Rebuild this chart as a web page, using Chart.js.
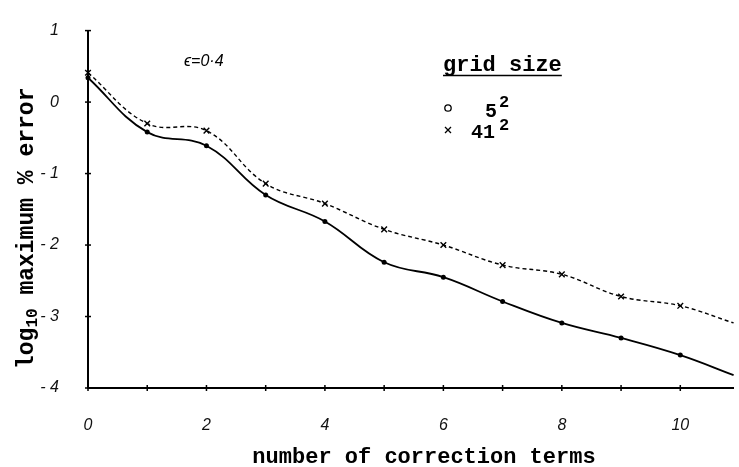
<!DOCTYPE html>
<html>
<head>
<meta charset="utf-8">
<script src="https://cdn.jsdelivr.net/npm/chart.js@4.4.0/dist/chart.umd.min.js"></script>
<style>
  html, body { margin: 0; padding: 0; background: #fff; }
  #wrap { width: 739px; height: 467px; position: relative; }
</style>
</head>
<body>
<div id="wrap"><canvas id="errChart"></canvas></div>
<script>
// number of correction terms (last entry is where the curves run off the axis)
const terms = [0, 1, 2, 3, 4, 5, 6, 7, 8, 9, 10, 10.9];
// log10 maximum % error
const coarseGrid = [0.34, -0.42, -0.61, -1.30, -1.67, -2.24, -2.45, -2.79, -3.09, -3.30, -3.54, -3.82]; // 5^2
const fineGrid = [0.41, -0.30, -0.40, -1.14, -1.42, -1.78, -2.00, -2.28, -2.41, -2.72, -2.85, -3.09];   // 41^2
const xTickLabels = ['0', '', '2', '', '4', '', '6', '', '8', '', '10'];
const yTickLabels = { '1': '1', '0': '0', '-1': '- 1', '-2': '- 2', '-3': '- 3', '-4': '- 4' };

const monoBold = '"Liberation Mono", "DejaVu Sans Mono", monospace';
const tickFont = { family: '"Liberation Sans", "DejaVu Sans", sans-serif', size: 16, style: 'italic' };

function toPoints(ys) {
    return terms.map((x, i) => ({ x: x, y: ys[i] }));
}

// crossing tick marks on both axes
const tickMarks = {
    id: 'tickMarks',
    afterDraw(chart) {
        const ctx = chart.ctx;
        const xs = chart.scales.x, ys = chart.scales.y;
        const ax = xs.getPixelForValue(0), ay = ys.getPixelForValue(-4);
        ctx.save();
        ctx.strokeStyle = '#000';
        ctx.lineWidth = 1.5;
        for (let i = 0; i <= 10; i++) {
            const px = xs.getPixelForValue(i);
            ctx.beginPath(); ctx.moveTo(px, ay - 3); ctx.lineTo(px, ay + 3); ctx.stroke();
        }
        for (let v = -4; v <= 1; v++) {
            const py = ys.getPixelForValue(v);
            ctx.beginPath(); ctx.moveTo(ax - 3, py); ctx.lineTo(ax + 3, py); ctx.stroke();
        }
        ctx.restore();
    }
};

// axis titles, annotation and the hand-made legend
const labels = {
    id: 'labels',
    afterDraw(chart) {
        const ctx = chart.ctx;
        ctx.save();
        ctx.fillStyle = '#000';
        ctx.strokeStyle = '#000';
        ctx.textBaseline = 'alphabetic';

        // x title
        ctx.font = 'bold 22px ' + monoBold;
        ctx.textAlign = 'center';
        ctx.fillText('number of correction terms', 424, 463);

        // y title with subscript
        ctx.save();
        ctx.translate(33, 369);
        ctx.rotate(-Math.PI / 2);
        ctx.textAlign = 'left';
        ctx.font = 'bold 23px ' + monoBold;
        ctx.fillText('log', 0, 0);
        let w = ctx.measureText('log').width;
        ctx.font = 'bold 16px ' + monoBold;
        ctx.fillText('10', w, 4);
        w += ctx.measureText('10').width;
        ctx.font = 'bold 23px ' + monoBold;
        ctx.fillText(' maximum % error', w, 0);
        ctx.restore();

        // epsilon annotation
        ctx.textAlign = 'left';
        ctx.font = 'italic 16px "Liberation Sans", "DejaVu Sans", sans-serif';
        ctx.fillText('\u03f5=0\u00b74', 184, 66);

        // legend
        ctx.font = 'bold 22px ' + monoBold;
        ctx.fillText('grid size', 443, 71);
        const gw = ctx.measureText('grid size').width;
        ctx.lineWidth = 1.5;
        ctx.beginPath(); ctx.moveTo(443, 75.5); ctx.lineTo(443 + gw, 75.5); ctx.stroke();

        ctx.lineWidth = 1.3;
        ctx.beginPath(); ctx.arc(448, 108, 3.2, 0, Math.PI * 2); ctx.stroke();
        ctx.beginPath();
        ctx.moveTo(445, 127); ctx.lineTo(451, 133);
        ctx.moveTo(451, 127); ctx.lineTo(445, 133);
        ctx.stroke();

        ctx.font = 'bold 20px ' + monoBold;
        ctx.fillText('5', 485, 117);
        ctx.fillText('41', 471, 138);
        ctx.font = 'bold 17px ' + monoBold;
        ctx.fillText('2', 499, 107);
        ctx.fillText('2', 499, 130);
        ctx.restore();
    }
};

const lastIdx = terms.length - 1;

new Chart(document.getElementById('errChart').getContext('2d'), {
    type: 'line',
    data: {
        datasets: [{
            label: '5^2',
            data: toPoints(coarseGrid),
            borderColor: '#000',
            backgroundColor: '#000',
            borderWidth: 1.8,
            tension: 0.4,
            pointStyle: 'circle',
            pointRadius: ctx => ctx.dataIndex === lastIdx ? 0 : 2.5,
            pointBorderWidth: 0,
            clip: false
        }, {
            label: '41^2',
            data: toPoints(fineGrid),
            borderColor: '#000',
            backgroundColor: '#000',
            borderWidth: 1.4,
            borderDash: [4, 3],
            tension: 0.4,
            pointStyle: 'crossRot',
            pointRadius: ctx => ctx.dataIndex === lastIdx ? 0 : 4,
            pointBorderWidth: 1.4,
            clip: false
        }]
    },
    options: {
        responsive: true,
        maintainAspectRatio: false,
        animation: false,
        layout: { padding: { top: 19, right: 0, left: 0, bottom: 0 } },
        plugins: {
            legend: { display: false },
            tooltip: { enabled: false }
        },
        scales: {
            x: {
                type: 'linear',
                min: 0,
                max: 10.9,
                afterFit(scale) { scale.height = 79; },
                grid: { display: false },
                border: { display: true, color: '#000', width: 2 },
                ticks: {
                    stepSize: 1,
                    includeBounds: false,
                    autoSkip: false,
                    maxRotation: 0,
                    padding: 20,
                    color: '#111',
                    font: tickFont,
                    callback: v => xTickLabels[v] !== undefined ? xTickLabels[v] : ''
                }
            },
            y: {
                min: -4,
                max: 1,
                afterFit(scale) { scale.width = 88; },
                grid: { display: false },
                border: { display: true, color: '#000', width: 2 },
                ticks: {
                    stepSize: 1,
                    padding: 21,
                    color: '#111',
                    font: tickFont,
                    callback: v => yTickLabels[String(v)] || ''
                }
            }
        }
    },
    plugins: [tickMarks, labels]
});
</script>
</body>
</html>
